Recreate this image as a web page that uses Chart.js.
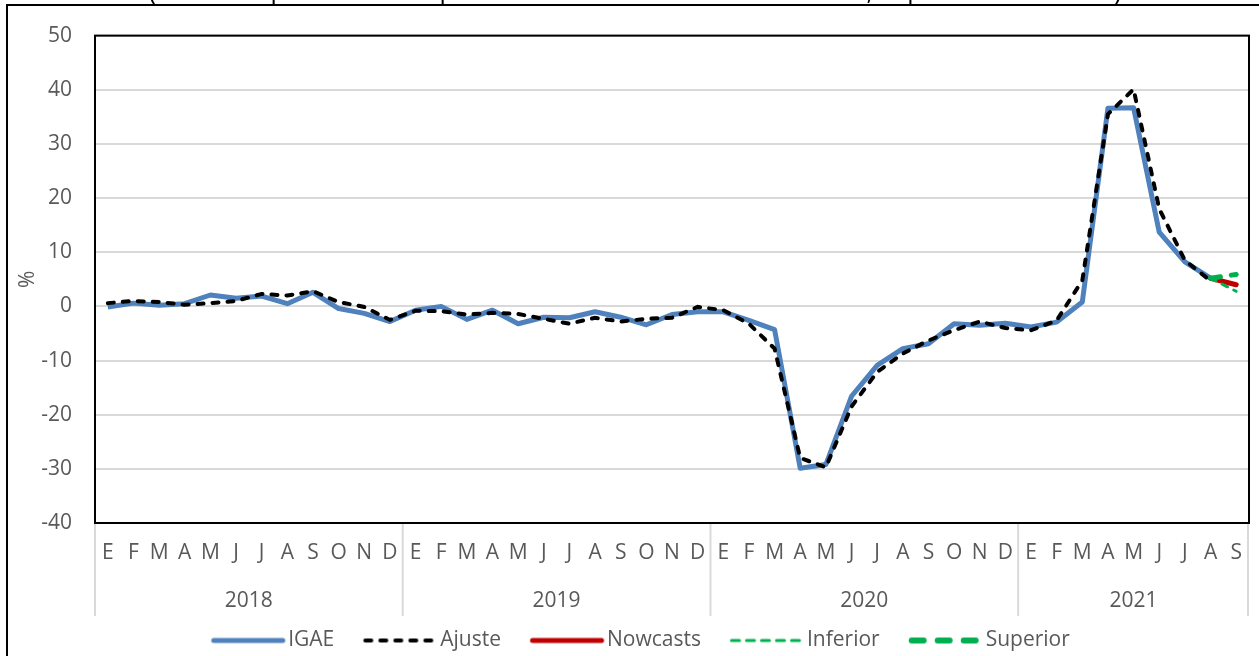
<!DOCTYPE html>
<html><head><meta charset="utf-8">
<script src="https://cdn.jsdelivr.net/npm/chart.js@4/dist/chart.umd.min.js"></script>
<style>html,body{margin:0;padding:0;background:#fff;overflow:hidden}</style>
</head><body>
<canvas id="c" width="1259" height="656"></canvas>
<script>
const months = ['E','F','M','A','M','J','J','A','S','O','N','D',
                'E','F','M','A','M','J','J','A','S','O','N','D',
                'E','F','M','A','M','J','J','A','S','O','N','D',
                'E','F','M','A','M','J','J','A','S'];
const years = ['2018','2019','2020','2021'];
const monthsPerYear = [12,12,12,9];
const yTicks = [50,40,30,20,10,0,-10,-20,-30,-40];

const igae = [ -0.1, 0.6, 0.2, 0.5, 2.1, 1.5, 1.9, 0.5, 2.6, -0.4, -1.3, -2.8,
               -0.7, 0.0, -2.4, -0.7, -3.2, -2.0, -2.1, -1.0, -2.0, -3.4, -1.5, -1.0,
               -1.0, -2.6, -4.3, -29.9, -29.2, -16.6, -10.9, -7.8, -6.9, -3.2, -3.5, -3.1,
               -3.8, -2.9, 0.8, 36.6, 36.7, 13.7, 8.2, 5.2, null ];
const ajuste = [ 0.6, 1.0, 0.8, 0.3, 0.6, 1.0, 2.3, 2.0, 2.8, 0.8, -0.1, -2.5,
                 -0.8, -0.9, -1.5, -1.2, -1.4, -2.3, -3.2, -2.1, -2.8, -2.3, -2.1, -0.1,
                 -0.7, -3.2, -7.8, -28.0, -29.7, -18.5, -12.1, -8.7, -6.3, -4.4, -2.8, -4.0,
                 -4.4, -2.6, 4.8, 35.5, 40.1, 18.0, 8.5, 4.7, null ];
const nowcasts = [ null,null,null,null,null,null,null,null,null,null,null,null,
                   null,null,null,null,null,null,null,null,null,null,null,null,
                   null,null,null,null,null,null,null,null,null,null,null,null,
                   null,null,null,null,null,null,null, 5.2, 4.0 ];
const inferior = [ null,null,null,null,null,null,null,null,null,null,null,null,
                   null,null,null,null,null,null,null,null,null,null,null,null,
                   null,null,null,null,null,null,null,null,null,null,null,null,
                   null,null,null,null,null,null,null, 5.2, 2.8 ];
const superior = [ null,null,null,null,null,null,null,null,null,null,null,null,
                   null,null,null,null,null,null,null,null,null,null,null,null,
                   null,null,null,null,null,null,null,null,null,null,null,null,
                   null,null,null,null,null,null,null, 5.2, 5.9 ];

const titleText = '(Variación porcentual respecto al mismo mes del año anterior, Septiembre de 2021)';
const FONT = '"Open Sans", "Noto Sans", sans-serif';
const GREY = '#595959';

// legend sample images (line samples with dash patterns)
const BOX = 66.5, SAMPLE = 74;
function sample(color, width, dash) {
  const c = document.createElement('canvas');
  c.width = 100; c.height = 12;
  const g = c.getContext('2d');
  g.strokeStyle = color; g.lineWidth = width; g.lineCap = 'round';
  g.setLineDash(dash);
  const x0 = 50 - BOX / 2 + width / 2;
  g.beginPath(); g.moveTo(x0, 6); g.lineTo(50 - BOX / 2 + SAMPLE - width / 2, 6); g.stroke();
  return c;
}

const decor = {
  id: 'decor',
  afterDraw(chart) {
    const ctx = chart.ctx, a = chart.chartArea, xs = chart.scales.x;
    ctx.save();
    ctx.fillStyle = '#000';
    ctx.font = '25px ' + FONT;
    ctx.textAlign = 'center';
    ctx.textBaseline = 'alphabetic';
    ctx.fillText(titleText, 635, 0);
    ctx.strokeStyle = '#000';
    ctx.lineWidth = 2;
    ctx.beginPath();
    ctx.moveTo(7, 660); ctx.lineTo(7, 5); ctx.lineTo(1262, 5);
    ctx.stroke();
    ctx.strokeRect(a.left, a.top, a.right - a.left, a.bottom - a.top);
    const half = (xs.getPixelForValue(1) - xs.getPixelForValue(0)) / 2;
    ctx.strokeStyle = '#d9d9d9';
    ctx.lineWidth = 2;
    ctx.fillStyle = GREY;
    ctx.font = '21px ' + FONT;
    ctx.textBaseline = 'middle';
    let start = 0, x1 = 0;
    years.forEach((yr, k) => {
      const end = start + monthsPerYear[k];
      const x0 = xs.getPixelForValue(start) - half;
      x1 = xs.getPixelForValue(end - 1) + half;
      ctx.beginPath(); ctx.moveTo(x0, a.bottom + 1); ctx.lineTo(x0, a.bottom + 93); ctx.stroke();
      ctx.fillText(yr, (x0 + x1) / 2, a.bottom + 78);
      start = end;
    });
    ctx.beginPath(); ctx.moveTo(x1 - 1, a.bottom + 1); ctx.lineTo(x1 - 1, a.bottom + 93); ctx.stroke();
    ctx.restore();
  }
};

new Chart(document.getElementById('c'), {
  type: 'line',
  data: {
    labels: months,
    datasets: [
      { label: 'IGAE', data: igae, borderColor: '#4F81BD', backgroundColor: '#4F81BD', borderWidth: 5, pointRadius: 0, order: 5, borderJoinStyle: 'round',
        pointStyle: sample('#4F81BD', 5, []) },
      { label: 'Ajuste', data: ajuste, borderColor: '#000000', backgroundColor: '#000000', borderWidth: 4, borderDash: [6, 9], borderCapStyle: 'round', pointRadius: 0, order: 4,
        pointStyle: sample('#000000', 4, [6, 9]) },
      { label: 'Nowcasts', data: nowcasts, borderColor: '#C00000', backgroundColor: '#C00000', borderWidth: 5, borderCapStyle: 'round', pointRadius: 0, order: 3,
        pointStyle: sample('#C00000', 5, []) },
      { label: 'Inferior', data: inferior, borderColor: '#00B050', backgroundColor: '#00B050', borderWidth: 3, borderDash: [6, 7], borderCapStyle: 'round', pointRadius: 0, order: 2,
        pointStyle: sample('#00B050', 3, [8, 7]) },
      { label: 'Superior', data: superior, borderColor: '#00B050', backgroundColor: '#00B050', borderWidth: 5, borderDash: [10, 11], borderCapStyle: 'round', pointRadius: 0, order: 1,
        pointStyle: sample('#00B050', 6, [12, 14]) }
    ]
  },
  options: {
    responsive: false,
    animation: false,
    layout: { padding: { top: 34, right: 6, left: 28, bottom: -5 } },
    scales: {
      x: {
        offset: true,
        grid: { display: false, drawTicks: false },
        border: { display: false },
        ticks: { autoSkip: false, maxRotation: 0, padding: 17, color: GREY, font: { size: 21, family: FONT } },
        afterFit(s) { s.height = 78; }
      },
      y: {
        min: -40, max: 50,
        afterBuildTicks(s) { s.ticks = yTicks.map(v => ({ value: v })); },
        grid: { color: '#d9d9d9', lineWidth: 2, drawTicks: false },
        border: { display: false },
        ticks: { padding: 23, color: GREY, font: { size: 21, family: FONT } },
        title: { display: true, text: '%', color: GREY, font: { size: 21, family: FONT }, padding: { top: -13, bottom: 0 } },
        afterFit(s) { s.width = 67; }
      }
    },
    plugins: {
      legend: {
        position: 'bottom',
        labels: {
          usePointStyle: true, pointStyleWidth: BOX, padding: 29,
          color: GREY, font: { size: 21, family: FONT },
          sort: (a, b) => a.datasetIndex - b.datasetIndex
        }
      },
      tooltip: { enabled: false }
    }
  },
  plugins: [decor]
});
</script>
</body></html>
